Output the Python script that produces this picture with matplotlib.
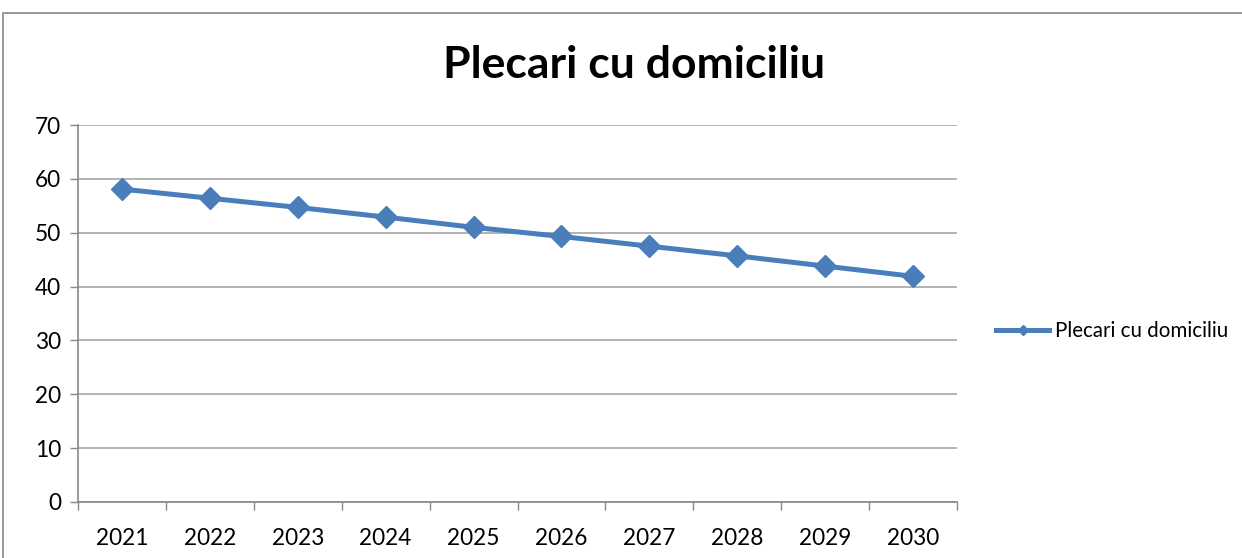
import matplotlib
matplotlib.use("Agg")
import matplotlib.pyplot as plt
from matplotlib.patches import Rectangle
from matplotlib.lines import Line2D

years = ["2021", "2022", "2023", "2024", "2025", "2026", "2027", "2028", "2029", "2030"]
values = [58.1, 56.4, 54.7, 52.9, 51.0, 49.3, 47.5, 45.7, 43.8, 41.9]
series_name = "Plecari cu domiciliu"
title = "Plecari cu domiciliu"

plt.rcParams['font.family'] = ['Lato', 'DejaVu Sans']

W, H = 1242, 558
fig = plt.figure(figsize=(W / 100, H / 100), dpi=100)

# outer chart frame
fig.patches.append(Rectangle((3 / W, -0.2), 1.2, (H - 13) / H + 0.2, transform=fig.transFigure,
                             fill=False, edgecolor="#888888", linewidth=1.2))

ax = fig.add_axes([78 / W, 1 - 502 / H, (957 - 78) / W, (502 - 125) / H])
color = "#4a7ebb"
x = list(range(len(years)))
ax.plot(x, values, color=color, linewidth=3.6, marker="D", markersize=11,
        markeredgecolor=color, markerfacecolor=color, zorder=3)

ax.set_xlim(-0.5, len(years) - 0.5)
ax.set_ylim(0, 70)
ax.set_yticks(range(0, 71, 10))
ax.set_xticks(x)
ax.set_xticklabels(years)
ax.set_xticks([i - 0.5 for i in range(len(years) + 1)], minor=True)
ax.tick_params(axis="x", which="major", length=0, pad=19, labelsize=16.3)
ax.tick_params(axis="x", which="minor", length=6, color="#888888", width=1)
ax.tick_params(axis="y", length=6, color="#888888", width=1, labelsize=16.3, pad=6)
ax.grid(axis="y", color="#a6a6a6", linewidth=1.2)
ax.set_axisbelow(True)
for s in ["top", "right"]:
    ax.spines[s].set_visible(False)
for s in ["left", "bottom"]:
    ax.spines[s].set_color("#888888")
    ax.spines[s].set_linewidth(1.2)

fig.text(634 / W, 1 - 65 / H, title, ha="center", va="center", fontsize=32,
         fontweight="bold")

handle = Line2D([], [], color=color, linewidth=3.6, marker="D", markersize=5,
                markerfacecolor=color, markeredgecolor=color)
fig.legend([handle], [series_name], loc="center left",
           bbox_to_anchor=(996 / W, 1 - 331 / H), frameon=False, fontsize=14.8,
           handlelength=2.6, handletextpad=0.25, borderaxespad=0, borderpad=0)

fig.savefig("out.png", dpi=100)
